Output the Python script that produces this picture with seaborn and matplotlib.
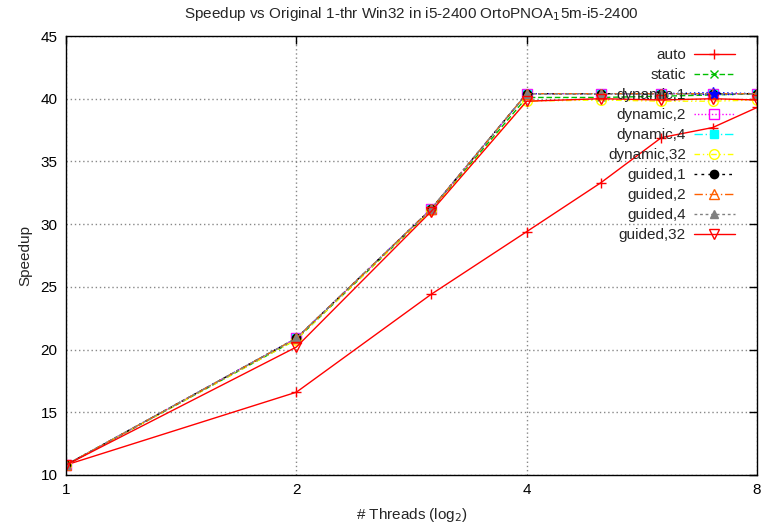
import matplotlib
matplotlib.use("Agg")
import matplotlib.pyplot as plt
import seaborn as sns
import pandas as pd
import numpy as np

threads = [1, 2, 3, 4, 5, 6, 7, 8]
auto = [10.8, 16.6, 24.4, 29.4, 33.3, 36.9, 37.7, 39.3]
static = [10.8, 20.8, 31.1, 40.1, 40.1, 40.2, 40.3, 40.4]
dynamic_1 = [10.8, 20.9, 31.2, 40.4, 40.4, 40.4, 40.5, 40.4]
dynamic_2 = [10.8, 20.9, 31.2, 40.4, 40.4, 40.4, 40.4, 40.4]
dynamic_4 = [10.8, 20.9, 31.2, 40.4, 40.4, 40.4, 40.4, 40.4]
dynamic_32 = [10.8, 20.8, 31.1, 39.8, 39.9, 39.8, 39.8, 39.9]
guided_1 = [10.8, 20.9, 31.2, 40.4, 40.4, 40.4, 40.4, 40.4]
guided_2 = [10.8, 20.9, 31.2, 40.4, 40.4, 40.4, 40.4, 40.4]
guided_4 = [10.8, 20.9, 31.2, 40.4, 40.4, 40.4, 40.4, 40.4]
guided_32 = [10.8, 20.2, 31.0, 39.8, 40.0, 39.9, 40.0, 39.9]

names = ["auto", "static", "dynamic,1", "dynamic,2", "dynamic,4", "dynamic,32",
         "guided,1", "guided,2", "guided,4", "guided,32"]
values = [auto, static, dynamic_1, dynamic_2, dynamic_4, dynamic_32,
          guided_1, guided_2, guided_4, guided_32]

styles = {
    "auto": dict(color="#ff0000", ls="-", marker="+", mfc="#ff0000", ms=7),
    "static": dict(color="#00c000", ls=(0, (4, 2)), marker="x", mfc="#00c000", ms=6),
    "dynamic,1": dict(color="#0000ff", ls=(0, (1, 2)), marker="*", mfc="#0000ff", ms=7),
    "dynamic,2": dict(color="#ff00ff", ls=(0, (1, 1.5)), marker="s", mfc="none", ms=7),
    "dynamic,4": dict(color="#00ffff", ls=(0, (6, 2, 1, 2)), marker="s", mfc="#00ffff", ms=6),
    "dynamic,32": dict(color="#ffff00", ls=(0, (4, 2, 1, 2, 1, 2)), marker="o", mfc="none", ms=7),
    "guided,1": dict(color="#000000", ls=(0, (2, 3)), marker="o", mfc="#000000", ms=6),
    "guided,2": dict(color="#ff6000", ls=(0, (6, 2, 1, 2)), marker="^", mfc="none", ms=7),
    "guided,4": dict(color="#808080", ls=(0, (2, 2)), marker="^", mfc="#808080", ms=6),
    "guided,32": dict(color="#ff0000", ls="-", marker="v", mfc="none", ms=7),
}

rows = []
for n, v in zip(names, values):
    for t, s in zip(threads, v):
        rows.append({"threads": t, "speedup": s, "series": n})
df = pd.DataFrame(rows)

sns.set_style("white")
plt.rcParams["font.family"] = ["Liberation Sans", "DejaVu Sans"]

fig = plt.figure(figsize=(7.63, 5.25), dpi=100)
ax = fig.add_axes([66/763, 1-475/525, (757-66)/763, (475-36)/525])

for n in names:
    st = styles[n]
    sub = df[df.series == n]
    sns.lineplot(data=sub, x="threads", y="speedup", ax=ax, label=n,
                 color=st["color"], linestyle=st["ls"], marker=st["marker"],
                 markerfacecolor=st["mfc"], markeredgecolor=st["color"],
                 markersize=st["ms"], linewidth=1.0, markeredgewidth=1.0)

ax.set_xscale("log", base=2)
ax.set_xlim(1, 8)
ax.set_ylim(10, 45)
ax.set_xticks([1, 2, 4, 8])
ax.set_xticklabels(["1", "2", "4", "8"])
ax.xaxis.set_minor_locator(matplotlib.ticker.NullLocator())
ax.set_yticks(np.arange(10, 46, 5))
ax.tick_params(direction="in", length=6, width=1, top=True, right=True,
               labelsize=11, colors="black", pad=6)
for sp in ax.spines.values():
    sp.set_visible(True)
    sp.set_color("black")
    sp.set_linewidth(1.0)
ax.grid(True, color="#888888", linestyle=(0, (1, 2)), linewidth=1.0)

ax.set_xlabel("# Threads (log$_2$)", fontsize=11, labelpad=6)
ax.set_ylabel("Speedup", fontsize=11, labelpad=6)
ax.set_title("Speedup vs Original 1-thr Win32 in i5-2400 OrtoPNOA$_1$5m-i5-2400",
             fontsize=11, pad=13)

leg = ax.legend(loc="upper right", frameon=False, markerfirst=False,
                fontsize=11, handlelength=2.7, labelspacing=0.39,
                borderaxespad=0.5, borderpad=0.3, handletextpad=0.5,
                bbox_to_anchor=(1 - 10/691, 1.0))

fig.savefig("out.png", dpi=100)
